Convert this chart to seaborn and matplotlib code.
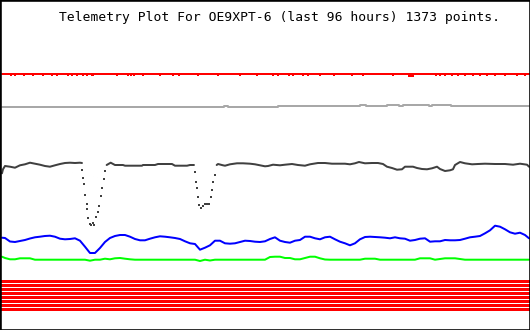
import numpy as np
import pandas as pd
import matplotlib
matplotlib.use("Agg")
import matplotlib.pyplot as plt
import seaborn as sns

# ---------------- data (time in hours over the last 96 h) ----------------
hours = [0.00, 0.55, 1.46, 2.37, 3.28, 4.19, 5.10, 6.01, 6.92, 7.83, 8.74, 9.65,
         10.57, 11.48, 12.39, 13.30, 14.21, 15.12, 16.03, 16.94, 17.85, 18.76,
         19.67, 20.58, 21.50, 22.41, 23.32, 24.23, 25.14, 26.05, 26.96, 27.87,
         28.78, 29.69, 30.60, 31.51, 32.43, 33.34, 34.25, 35.16, 36.07, 36.98,
         37.89, 38.80, 39.71, 40.62, 41.53, 42.44, 43.36, 44.27, 45.18, 46.09,
         47.00, 47.91, 48.82, 49.73, 50.64, 51.55, 52.46, 53.37, 54.28, 55.20,
         56.11, 57.02, 57.93, 58.84, 59.75, 60.66, 61.57, 62.48, 63.39, 64.30,
         65.21, 66.13, 67.04, 67.95, 68.86, 69.77, 70.68, 71.59, 72.50, 73.41,
         74.32, 75.23, 76.14, 77.06, 77.97, 78.88, 79.79, 80.70, 81.61, 82.52,
         83.43, 84.34, 85.25, 86.16, 87.07, 87.99, 88.90, 89.81, 90.72, 91.63,
         92.54, 93.45, 94.36, 95.27, 96.00]

blue = [92.3, 92.0, 88.5, 88.0, 89.0, 90.0, 91.5, 92.7, 93.3, 94.0, 94.3, 93.3,
        91.3, 90.7, 91.0, 91.7, 89.3, 83.3, 77.0, 77.0, 82.0, 88.0, 92.0, 94.0,
        95.0, 95.0, 93.3, 91.0, 89.7, 89.7, 91.3, 92.7, 93.7, 93.3, 92.7, 92.0,
        91.0, 88.7, 86.7, 86.0, 80.3, 82.3, 84.7, 89.3, 89.3, 86.7, 86.3, 86.7,
        88.0, 89.3, 89.0, 88.3, 88.0, 88.7, 91.0, 92.7, 89.3, 88.0, 87.3, 89.3,
        90.0, 93.3, 93.3, 91.7, 90.7, 92.7, 93.3, 90.7, 88.3, 86.7, 84.7, 86.7,
        90.7, 93.0, 93.3, 93.0, 92.7, 92.3, 91.7, 92.7, 91.7, 91.3, 89.3, 90.0,
        91.3, 91.7, 88.3, 88.7, 88.7, 90.0, 89.7, 89.7, 90.0, 91.3, 92.7, 93.3,
        94.0, 96.7, 99.7, 104.3, 103.3, 100.7, 97.7, 96.3, 97.3, 95.0, 91.7]

green = [73.3, 72.0, 70.7, 70.7, 71.7, 71.7, 71.7,
         70.3, 70.3, 70.3, 70.3, 70.3, 70.3, 70.3, 70.3, 70.3, 70.3, 70.3,
         69.3, 70.3, 70.3, 71.3, 70.7, 71.7, 72.0, 71.3, 70.7,
         70.3, 70.3, 70.3, 70.3, 70.3, 70.3, 70.3, 70.3, 70.3, 70.3, 70.3, 70.3, 70.3,
         69.0, 70.3, 69.5,
         70.3, 70.3, 70.3, 70.3, 70.3, 70.3, 70.3, 70.3, 70.3, 70.3, 70.3,
         73.0, 73.3, 73.3, 72.0, 72.0, 70.7, 70.7, 72.0, 73.3, 73.3, 71.7, 70.5,
         70.3, 70.3, 70.3, 70.3, 70.3, 70.3, 70.3,
         71.3, 71.3, 71.3,
         70.3, 70.3, 70.3, 70.3, 70.3, 70.3, 70.3, 70.3,
         71.7, 71.7, 71.7, 70.3, 71.0, 71.7, 71.7, 71.7,
         71.0,
         70.3, 70.3, 70.3, 70.3, 70.3, 70.3, 70.3, 70.3, 70.3, 70.3, 70.3, 70.3, 70.3, 70.3]

# dark grey channel: continuous runs and the two deep dips (sparse samples)
dark_hours = [0.00, 0.18, 0.55, 1.46, 2.37, 3.28, 4.19, 5.10, 6.01, 6.92, 7.83,
              8.74, 9.66, 10.57, 11.48, 12.39, 13.30, 14.21, 14.57,
              19.07, 19.80, 20.58, 22.04, 22.41, 25.50, 25.68, 27.87, 28.42,
              30.97, 31.51, 33.70, 34.25, 34.97,
              39.11, 39.35, 40.26, 40.63, 41.54, 42.81, 43.90, 45.18, 46.09,
              47.00, 47.91, 48.46, 49.37, 50.64, 51.55, 52.83, 53.92, 55.19,
              56.11, 57.56, 58.84, 60.11, 62.48, 63.39, 64.30, 65.03, 66.12,
              67.40, 68.49, 69.40, 70.13, 71.04, 71.95, 72.86, 73.41, 74.87,
              75.60, 76.51, 77.42, 78.33, 79.24, 79.79, 80.70, 81.61, 82.15,
              82.52, 83.43, 84.34, 85.62, 86.71, 87.98, 89.81, 91.63, 93.09,
              94.37, 95.64, 96.00]
dark_values = [156.7, 160.7, 164.0, 163.3, 162.3, 164.7, 165.7, 167.3, 166.3,
               165.3, 164.0, 163.3, 164.7, 166.0, 167.0, 167.3, 167.0, 167.3, 167.0,
               165.0, 167.3, 165.0, 165.0, 164.3, 164.3, 165.0, 165.0, 166.0,
               166.0, 164.3, 164.3, 165.0, 165.0,
               165.0, 166.0, 164.7, 164.3, 165.7, 166.7, 166.7, 166.3, 165.7,
               164.7, 163.7, 164.0, 165.3, 164.7, 165.3, 166.0, 165.0, 164.3,
               165.7, 167.0, 167.0, 166.3, 166.3, 165.7, 166.7, 168.0, 166.7,
               167.0, 167.0, 166.0, 163.3, 162.0, 160.3, 160.7, 163.3, 163.3,
               162.0, 161.0, 160.7, 161.7, 163.3, 161.0, 159.0, 159.7, 160.7,
               165.0, 168.0, 166.7, 165.7, 166.0, 166.3, 166.0, 166.0, 165.3,
               166.3, 165.3, 163.3]
dark_run = [1] * 19 + [2] * 14 + [3] * 57

dip_hours = [14.63, 14.81, 14.99, 15.17, 15.43, 15.54, 15.72, 16.03, 16.30,
             16.58, 16.85, 17.12, 17.43, 17.67, 18.03, 18.27, 18.53, 18.76,
             35.16, 35.34, 35.52, 35.70, 35.94, 36.25, 36.67, 36.98, 37.34,
             37.71, 38.02, 38.20, 38.49, 38.80]
dip_values = [160.0, 152.3, 146.0, 135.0, 125.7, 120.7, 112.3, 106.0, 105.5,
              106.7, 105.5, 113.3, 118.3, 124.3, 134.3, 142.3, 151.0, 159.3,
              157.7, 148.3, 141.7, 133.3, 125.0, 121.7, 124.3, 126.0, 126.0,
              126.0, 133.3, 140.0, 147.7, 155.0]

# light grey channel
grey_hours = [0.00, 40.26, 40.44, 40.99, 41.17, 50.10, 50.28, 65.04, 65.22,
              66.13, 66.31, 69.95, 70.13, 72.13, 72.32, 72.87, 73.05, 77.60,
              77.79, 78.15, 78.33, 81.62, 81.80, 96.00]
grey_values = [223.0, 223.0, 224.0, 224.0, 223.0, 223.0, 224.3, 224.3, 225.3,
               225.3, 224.3, 224.3, 225.3, 225.3, 224.3, 224.3, 225.3, 225.3,
               224.3, 224.3, 225.5, 225.5, 223.7, 223.7]

# top red channel and its single-sample drops
red_hours = [0.00, 24.0, 48.0, 72.0, 96.00]
red_values = [256.0, 256.0, 256.0, 256.0, 256.0]
red_drop_hours = [1.64, 2.37, 4.01, 5.65, 7.47, 9.11, 10.02, 12.02, 12.75, 13.66,
                  14.75, 15.48, 16.40, 16.58, 20.95, 22.95, 23.50, 24.05, 25.68,
                  28.78, 31.15, 32.24, 35.70, 39.35, 43.35, 46.45, 49.37, 50.28,
                  52.28, 53.01, 54.83, 55.74, 57.93, 60.48, 63.76, 65.76, 71.23,
                  74.14, 74.51, 74.87, 79.06, 79.79, 80.71, 81.98, 83.07, 84.35,
                  85.81, 87.08, 88.35, 89.81, 91.64, 93.82, 95.28]
red_drop_values = [254.7] * 37 + [254.2, 254.0, 254.2] + [254.7] * 13

# bottom bank of constant red channels
band_levels = [48.7, 44.7, 40.7, 36.7, 32.7, 28.7, 24.7, 20.7]
band_hours = [0.00, 96.00]

title = "Telemetry Plot For OE9XPT-6 (last 96 hours) 1373 points."

# ---------------- figure ----------------
sns.set_theme(style="white")
plt.rcParams["font.family"] = ["DejaVu Sans Mono", "DejaVu Sans"]

fig = plt.figure(figsize=(5.3, 3.3), dpi=100)
ax = fig.add_axes([0, 0, 1, 1])

px = 0.72  # points per pixel at 100 dpi

band_df = pd.DataFrame({
    "hours": [h for lv in band_levels for h in band_hours],
    "value": [lv for lv in band_levels for h in band_hours],
    "band": [i for i, lv in enumerate(band_levels) for h in band_hours],
})
sns.lineplot(data=band_df, x="hours", y="value", units="band", estimator=None,
             color="#ff0000", linewidth=2.7 * px, ax=ax, legend=False,
             antialiased=False)

sns.lineplot(x=hours, y=green, color="#00ff00", linewidth=2.0 * px, ax=ax,
             estimator=None, sort=False)
sns.lineplot(x=hours, y=blue, color="#0000ff", linewidth=2.0 * px, ax=ax,
             estimator=None, sort=False)

dark_df = pd.DataFrame({"hours": dark_hours, "value": dark_values, "run": dark_run})
sns.lineplot(data=dark_df, x="hours", y="value", units="run", estimator=None,
             color="#404040", linewidth=2.0 * px, ax=ax, legend=False, sort=False)
sns.scatterplot(x=dip_hours, y=dip_values, color="#404040", marker="s",
                s=(2.0 * px) ** 2, linewidth=0, ax=ax)

sns.lineplot(x=grey_hours, y=grey_values, color="#a8a8a8", linewidth=2.0 * px,
             ax=ax, estimator=None, sort=False, drawstyle="steps-post")

sns.lineplot(x=red_hours, y=red_values, color="#ff0000", linewidth=2.0 * px,
             ax=ax, estimator=None)
sns.scatterplot(x=red_drop_hours, y=red_drop_values, color="#ff0000", marker="s",
                s=(2.0 * px) ** 2, linewidth=0, ax=ax)

ax.set_xlim(-0.36, 96.18)
ax.set_ylim(0, 330)
ax.set_xticks([])
ax.set_yticks([])
ax.set_xlabel("")
ax.set_ylabel("")
for sp in ax.spines.values():
    sp.set_visible(True)
    sp.set_color("black")
    sp.set_linewidth(2.6 * px)

ax.text(0.528, 1 - 17.0 / 330, title, transform=ax.transAxes, ha="center",
        va="center", fontsize=9.4, color="black",
        family=["DejaVu Sans Mono", "DejaVu Sans"])

fig.savefig("out.png", dpi=100, facecolor="white")
